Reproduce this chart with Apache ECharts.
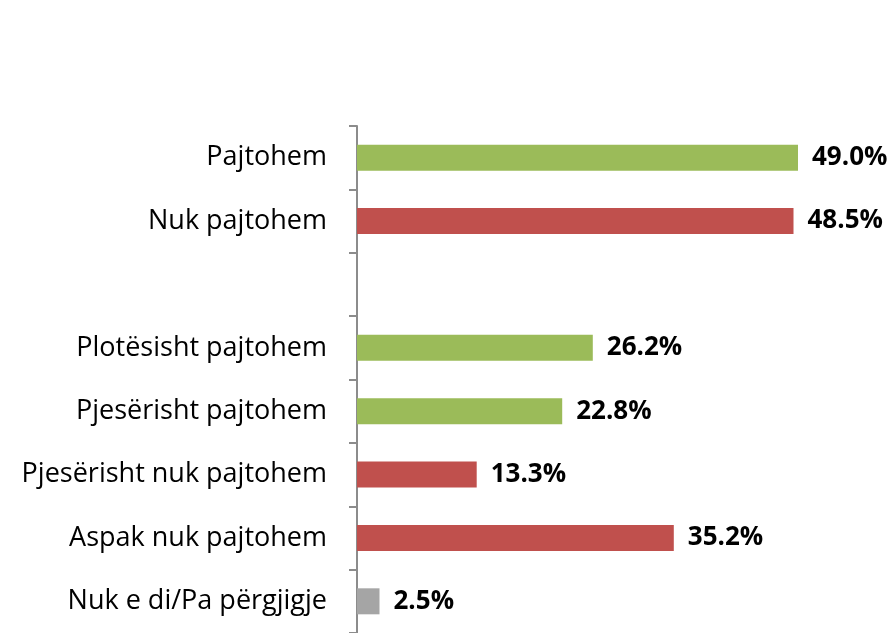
<!DOCTYPE html>
<html>
<head>
<meta charset="utf-8">
<script src="https://cdn.jsdelivr.net/npm/echarts@6/dist/echarts.min.js"></script>
<style>
  html, body { margin: 0; padding: 0; background: #fff; }
  #chart { width: 895px; height: 633px; }
</style>
</head>
<body>
<div id="chart"></div>
<script>
// categories, top to bottom (blank row is the gap between groups)
const categories = [
  'Pajtohem',
  'Nuk pajtohem',
  '',
  'Plotësisht pajtohem',
  'Pjesërisht pajtohem',
  'Pjesërisht nuk pajtohem',
  'Aspak nuk pajtohem',
  'Nuk e di/Pa përgjigje'
]
const values = [49.0, 48.5, null, 26.2, 22.8, 13.3, 35.2, 2.5]
const colorKeys = ['agree', 'disagree', null, 'agree', 'agree', 'disagree', 'disagree', 'none']

const palette = {
  agree: '#9BBB59',
  disagree: '#C0504D',
  none: '#A5A5A5'
}

const chart = echarts.init(document.getElementById('chart'))

chart.setOption({
  animation: false,
  grid: {
    left: 357,
    top: 126,
    width: 450,
    height: 512
  },
  xAxis: {
    type: 'value',
    min: 0,
    max: 50,
    show: false
  },
  yAxis: {
    type: 'category',
    inverse: true,
    data: categories,
    axisLine: {
      show: true,
      lineStyle: { color: '#8C8C8C', width: 2 }
    },
    axisTick: {
      show: true,
      length: 8,
      lineStyle: { color: '#8C8C8C', width: 2 }
    },
    axisLabel: {
      margin: 30,
      color: '#000',
      fontFamily: 'Open Sans',
      fontSize: 27
    }
  },
  series: [{
    type: 'bar',
    barWidth: 26,
    data: values.map((v, i) => ({
      value: v,
      itemStyle: { color: colorKeys[i] ? palette[colorKeys[i]] : 'transparent' }
    })),
    label: {
      show: true,
      position: 'right',
      distance: 14,
      color: '#000',
      fontFamily: 'Open Sans',
      fontWeight: 'bold',
      fontSize: 26,
      formatter: (p) => p.value == null ? '' : p.value.toFixed(1) + '%'
    }
  }]
})
</script>
</body>
</html>
